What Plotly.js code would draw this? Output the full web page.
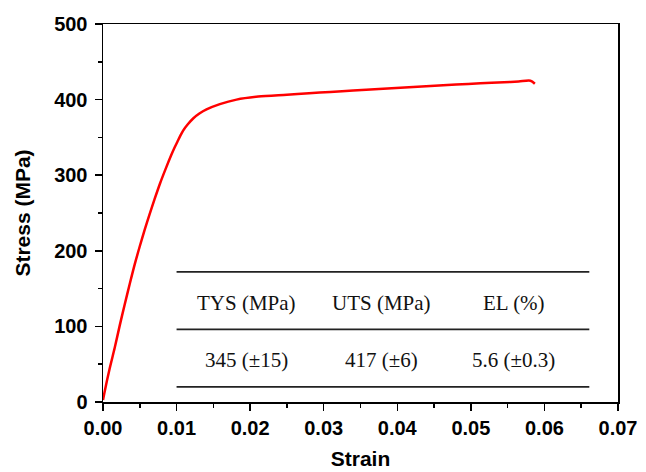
<!DOCTYPE html>
<html>
<head>
<meta charset="utf-8">
<script src="https://cdn.plot.ly/plotly-3.0.1.min.js"></script>
<style>html,body{margin:0;padding:0;background:#fff;}#chart{width:646px;height:472px;}</style>
</head>
<body>
<div id="chart"></div>
<script>
// Stress-strain curve
const strain = [0, 0.00023, 0.0009, 0.0016, 0.00227, 0.00295, 0.00363, 0.00431, 0.0050, 0.00567, 0.00635, 0.0070, 0.00775, 0.0085, 0.00925, 0.0097, 0.0101, 0.0105, 0.01089, 0.0115, 0.01225, 0.0131, 0.01407, 0.01588, 0.01815, 0.0211, 0.0250, 0.0280, 0.0309, 0.0340, 0.0375, 0.0410, 0.0445, 0.0480, 0.0513, 0.0545, 0.0565, 0.0581, 0.0587];
const stress = [2.6, 14, 44, 72, 101, 129, 156, 182, 206, 228, 249, 268, 289, 308, 326, 336, 344, 352, 359, 367, 375, 381.5, 387, 394, 400, 404, 406.5, 408.5, 410, 412, 414, 416, 418, 420, 421.5, 423, 424, 425, 421];

// Summary table
const tableHeaders = ["TYS (MPa)", "UTS (MPa)", "EL (%)"];
const tableValues = ["345 (\u00B115)", "417 (\u00B16)", "5.6 (\u00B10.3)"];

// axis labels
const xTitle = "Strain";
const yTitle = "Stress (MPa)";

// table placement (in data coordinates)
const colX = [0.01956, 0.0379, 0.0558];
const rowY = [130.5, 55.6];
const ruleY = [172, 96, 20];
const ruleX = [0.0100, 0.0661];

const serif = '"Liberation Serif", "Times New Roman", serif';
const annotations = [];
tableHeaders.forEach((t, i) => annotations.push({x: colX[i], y: rowY[0], xref: 'x', yref: 'y', text: t, showarrow: false,
  font: {family: serif, size: 21, color: '#111'}}));
tableValues.forEach((t, i) => annotations.push({x: colX[i], y: rowY[1], xref: 'x', yref: 'y', text: t, showarrow: false,
  font: {family: serif, size: 21, color: '#111'}}));

const shapes = ruleY.map(y => ({type: 'line', xref: 'x', yref: 'y', x0: ruleX[0], x1: ruleX[1], y0: y, y1: y,
  line: {color: '#222', width: 1.8}}));

const axisFont = {family: '"Liberation Sans", Arial, sans-serif', size: 20, color: '#000', weight: 'bold'};
const titleFont = {family: '"Liberation Sans", Arial, sans-serif', size: 21, color: '#000', weight: 'bold'};

const trace = {x: strain, y: stress, type: 'scatter', mode: 'lines', line: {color: '#ff0000', width: 2.5, shape: 'spline', smoothing: 0.8}, hoverinfo: 'skip'};

const layout = {
  width: 646, height: 472,
  margin: {l: 103, r: 28, t: 24, b: 70},
  paper_bgcolor: '#fff', plot_bgcolor: '#fff',
  showlegend: false,
  xaxis: {range: [0, 0.07], dtick: 0.01, tick0: 0, tickformat: '.2f', showgrid: false, zeroline: false,
    showline: true, linecolor: '#000', linewidth: 1.5, mirror: true,
    ticks: 'outside', ticklen: 7, tickwidth: 1.5, tickcolor: '#000',
    minor: {dtick: 0.005, ticks: 'outside', ticklen: 4, tickwidth: 1.5, tickcolor: '#000', showgrid: false},
    tickfont: axisFont, title: {text: xTitle, font: titleFont, standoff: 14}},
  yaxis: {range: [0, 500], dtick: 100, tick0: 0, showgrid: false, zeroline: false,
    showline: true, linecolor: '#000', linewidth: 1.5, mirror: true,
    ticks: 'outside', ticklen: 7, tickwidth: 1.5, tickcolor: '#000', ticklabelstandoff: 3,
    minor: {dtick: 50, ticks: 'outside', ticklen: 4, tickwidth: 1.5, tickcolor: '#000', showgrid: false},
    tickfont: axisFont, title: {text: yTitle, font: titleFont, standoff: 18}},
  annotations: annotations,
  shapes: shapes
};

Plotly.newPlot('chart', [trace], layout, {displayModeBar: false, staticPlot: true});
</script>
</body>
</html>
